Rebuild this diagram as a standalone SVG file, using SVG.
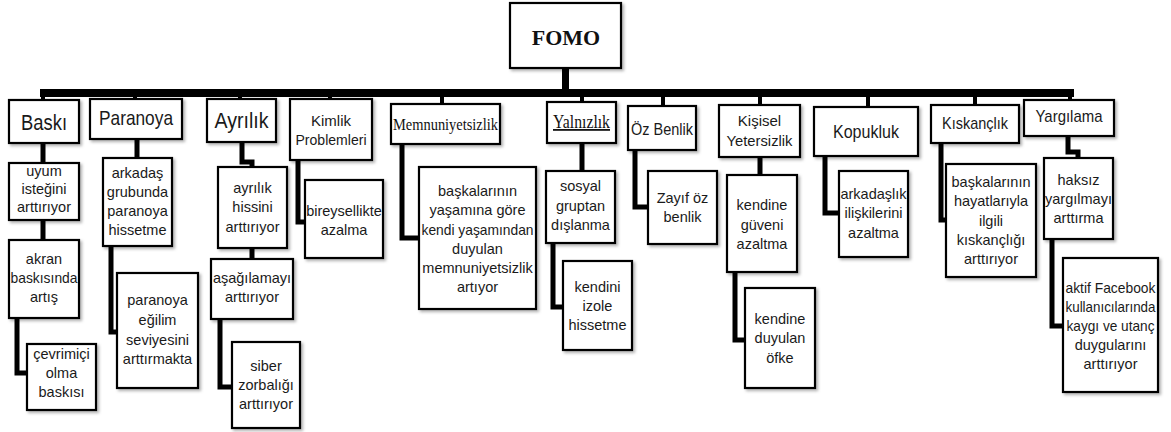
<svg xmlns="http://www.w3.org/2000/svg" width="1171" height="432" viewBox="0 0 1171 432">
<defs>
<filter id="sh" x="-10%" y="-10%" width="130%" height="130%">
<feDropShadow dx="2" dy="2" stdDeviation="1.5" flood-color="#000" flood-opacity="0.3"/>
</filter>
<style>
.b{fill:#fff;stroke:#000;stroke-width:2.2;filter:url(#sh)}
.t{font-family:"Liberation Sans",Arial,sans-serif;font-size:14.5px;fill:#1a1a1a;text-anchor:middle}
.s{font-family:"Liberation Serif","Times New Roman",serif;fill:#111;text-anchor:middle}
.c{fill:none;stroke:#000;stroke-width:5;stroke-linejoin:miter}
.st{fill:none;stroke:#000;stroke-width:4}
</style>
</defs>
<rect width="1171" height="432" fill="#fff"/>
<g id="connectors">
<rect x="40" y="89" width="1034" height="8" fill="#000"/>
<rect x="562" y="66" width="7" height="25" fill="#000"/>
<path class="st" d="M43,96V101M135,96V100M240,96V100M330,96V100M442,96V105M582,96V103M663,96V108M760,96V106M868,96V108M975,96V106M1070,96V101"/>
<path class="c" d="M43,143V163M43,220V240M17,318V373H27M137,139V158M111,246V332H117M242,142V162H252V167M252,248V259M220,319V387H232M298,160V222H305M402,144V238H419M582,143V171M553,243V307H563M635,150V207H648M760,157V175M735,272V340H745M825,156V213H839M941,143V220H946M1068,136V152H1078V158M1052,239V326H1063"/>
</g>
<g id="fomo"><rect class="b" x="510" y="3" width="111" height="65"/><text class="s" x="566" y="45" style="font-size:22px;font-weight:bold">FOMO</text></g>
<g id="baski"><rect class="b" x="9" y="100" width="70" height="43"/><text class="t" x="44" y="130" style="font-size:22px" textLength="46" lengthAdjust="spacingAndGlyphs">Baskı</text></g>
<g id="paranoya"><rect class="b" x="90" y="99" width="92" height="40"/><text class="t" x="136" y="125" style="font-size:21px" textLength="74" lengthAdjust="spacingAndGlyphs">Paranoya</text></g>
<g id="ayrilik"><rect class="b" x="207" y="99" width="69" height="43"/><text class="t" x="241.5" y="128" style="font-size:22px" textLength="54" lengthAdjust="spacingAndGlyphs">Ayrılık</text></g>
<g id="kimlik"><rect class="b" x="290" y="99" width="82" height="61"/><text class="t" x="331" y="126" style="font-size:15px">Kimlik</text><text class="t" x="331" y="145" style="font-size:15px" textLength="71" lengthAdjust="spacingAndGlyphs">Problemleri</text></g>
<g id="memnuniyetsizlik"><rect class="b" x="391" y="104" width="109" height="40"/><text class="s" x="445.5" y="130" style="font-size:17px" textLength="105" lengthAdjust="spacingAndGlyphs">Memnuniyetsizlik</text></g>
<g id="yalnizlik"><rect class="b" x="547" y="102" width="69" height="41"/><text class="s" x="581.5" y="128" style="font-size:18px" text-decoration="underline" textLength="57" lengthAdjust="spacingAndGlyphs">Yalnızlık</text></g>
<g id="ozbenlik"><rect class="b" x="628" y="106" width="68" height="44"/><text class="t" x="662" y="135" style="font-size:16px" textLength="62" lengthAdjust="spacingAndGlyphs">Öz Benlik</text></g>
<g id="kisisel"><rect class="b" x="719" y="105" width="81" height="52"/><text class="t" x="759.5" y="126" style="font-size:15px">Kişisel</text><text class="t" x="759.5" y="146" style="font-size:15px" textLength="66" lengthAdjust="spacingAndGlyphs">Yetersizlik</text></g>
<g id="kopukluk"><rect class="b" x="814" y="107" width="104" height="49"/><text class="t" x="866" y="138" style="font-size:17.5px" textLength="66" lengthAdjust="spacingAndGlyphs">Kopukluk</text></g>
<g id="kiskanclik"><rect class="b" x="931" y="105" width="88" height="38"/><text class="t" x="975" y="129" style="font-size:17px" textLength="66" lengthAdjust="spacingAndGlyphs">Kıskançlık</text></g>
<g id="yargilama"><rect class="b" x="1024" y="100" width="90" height="36"/><text class="t" x="1069" y="122" style="font-size:17px" textLength="67" lengthAdjust="spacingAndGlyphs">Yargılama</text></g>
<g id="uyum"><rect class="b" x="9" y="163" width="70" height="57"/><text class="t" x="44" y="176">uyum</text><text class="t" x="44" y="194">isteğini</text><text class="t" x="44" y="212">arttırıyor</text></g>
<g id="akran"><rect class="b" x="9" y="240" width="70" height="78"/><text class="t" x="44" y="264">akran</text><text class="t" x="44" y="283" textLength="67" lengthAdjust="spacingAndGlyphs">baskısında</text><text class="t" x="44" y="302">artış</text></g>
<g id="cevrimici"><rect class="b" x="27" y="344" width="69" height="66"/><text class="t" x="61.5" y="359">çevrimiçi</text><text class="t" x="61.5" y="378">olma</text><text class="t" x="61.5" y="397">baskısı</text></g>
<g id="arkadas"><rect class="b" x="103" y="158" width="69" height="88"/><text class="t" x="137.5" y="178">arkadaş</text><text class="t" x="137.5" y="197">grubunda</text><text class="t" x="137.5" y="216">paranoya</text><text class="t" x="137.5" y="235">hissetme</text></g>
<g id="paranoyaegilim"><rect class="b" x="117" y="273" width="81" height="115"/><text class="t" x="157.5" y="305">paranoya</text><text class="t" x="157.5" y="325">eğilim</text><text class="t" x="157.5" y="345">seviyesini</text><text class="t" x="157.5" y="364">arttırmakta</text></g>
<g id="ayrilikhissi"><rect class="b" x="218" y="167" width="69" height="81"/><text class="t" x="252.5" y="193">ayrılık</text><text class="t" x="252.5" y="212">hissini</text><text class="t" x="252.5" y="232">arttırıyor</text></g>
<g id="asagilama"><rect class="b" x="211" y="259" width="82" height="60"/><text class="t" x="252" y="283">aşağılamayı</text><text class="t" x="252" y="302">arttırıyor</text></g>
<g id="siber"><rect class="b" x="232" y="342" width="68" height="86"/><text class="t" x="266" y="371">siber</text><text class="t" x="266" y="390">zorbalığı</text><text class="t" x="266" y="409">arttırıyor</text></g>
<g id="bireysellik"><rect class="b" x="305" y="180" width="78" height="78"/><text class="t" x="344" y="216">bireysellikte</text><text class="t" x="344" y="235">azalma</text></g>
<g id="baskalari1"><rect class="b" x="419" y="167" width="117" height="142"/><text class="t" x="477.5" y="196">başkalarının</text><text class="t" x="477.5" y="215">yaşamına göre</text><text class="t" x="477.5" y="235" textLength="112" lengthAdjust="spacingAndGlyphs">kendi yaşamından</text><text class="t" x="477.5" y="254">duyulan</text><text class="t" x="477.5" y="273">memnuniyetsizlik</text><text class="t" x="477.5" y="292">artıyor</text></g>
<g id="sosyal"><rect class="b" x="546" y="171" width="69" height="72"/><text class="t" x="580.5" y="191">sosyal</text><text class="t" x="580.5" y="211">gruptan</text><text class="t" x="580.5" y="230">dışlanma</text></g>
<g id="izole"><rect class="b" x="563" y="261" width="69" height="89"/><text class="t" x="597.5" y="292">kendini</text><text class="t" x="597.5" y="311">izole</text><text class="t" x="597.5" y="330">hissetme</text></g>
<g id="zayif"><rect class="b" x="648" y="171" width="69" height="73"/><text class="t" x="682.5" y="203">Zayıf öz</text><text class="t" x="682.5" y="222">benlik</text></g>
<g id="guven"><rect class="b" x="727" y="175" width="70" height="97"/><text class="t" x="762" y="210">kendine</text><text class="t" x="762" y="230">güveni</text><text class="t" x="762" y="249">azaltma</text></g>
<g id="ofke"><rect class="b" x="745" y="288" width="70" height="100"/><text class="t" x="780" y="324">kendine</text><text class="t" x="780" y="343">duyulan</text><text class="t" x="780" y="363">öfke</text></g>
<g id="arkadaslik"><rect class="b" x="839" y="171" width="69" height="86"/><text class="t" x="873.5" y="199">arkadaşlık</text><text class="t" x="873.5" y="218">ilişkilerini</text><text class="t" x="873.5" y="238">azaltma</text></g>
<g id="baskalari2"><rect class="b" x="946" y="164" width="90" height="113"/><text class="t" x="991" y="187">başkalarının</text><text class="t" x="991" y="206">hayatlarıyla</text><text class="t" x="991" y="226">ilgili</text><text class="t" x="991" y="245">kıskançlığı</text><text class="t" x="991" y="264">arttırıyor</text></g>
<g id="haksiz"><rect class="b" x="1044" y="158" width="69" height="81"/><text class="t" x="1078.5" y="185">haksız</text><text class="t" x="1078.5" y="204">yargılmayı</text><text class="t" x="1078.5" y="223">arttırma</text></g>
<g id="aktif"><rect class="b" x="1063" y="258" width="95" height="134"/><text class="t" x="1110.5" y="293" textLength="90" lengthAdjust="spacingAndGlyphs">aktif Facebook</text><text class="t" x="1110.5" y="312" textLength="90" lengthAdjust="spacingAndGlyphs">kullanıcılarında</text><text class="t" x="1110.5" y="331" textLength="88" lengthAdjust="spacingAndGlyphs">kaygı ve utanç</text><text class="t" x="1110.5" y="350">duygularını</text><text class="t" x="1110.5" y="369">arttırıyor</text></g>
</svg>
